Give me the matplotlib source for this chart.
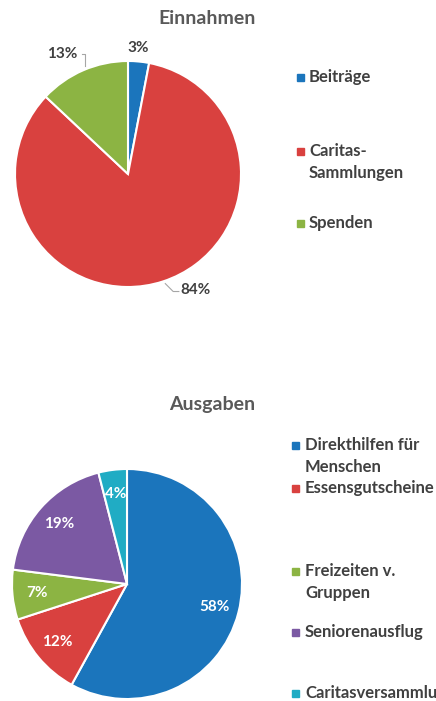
import matplotlib.pyplot as plt

# Einnahmen
in_labels = ["Beiträge", "Caritas-\nSammlungen", "Spenden"]
in_values = [3, 84, 13]
in_colors = ["#1B75BC", "#D9413F", "#8CB443"]

# Ausgaben
out_labels = ["Direkthilfen für\nMenschen", "Essensgutscheine", "Freizeiten v.\nGruppen",
              "Seniorenausflug", "Caritasversammlung"]
out_values = [58, 12, 7, 19, 4]
out_colors = ["#1B75BC", "#D9413F", "#8CB443", "#7B59A3", "#20ACC4"]

W, H = 436, 701
TXT = "#404040"
FONT = "Lato"

fig = plt.figure(figsize=(W / 100, H / 100), dpi=100)
fig.set_facecolor("white")


def pie_axes(cx, cy, r):
    ax = fig.add_axes([(cx - r) / W, (H - cy - r) / H, 2 * r / W, 2 * r / H])
    ax.axis("off")
    return ax


def fix_limits(ax):
    ax.set_xlim(-1, 1)
    ax.set_ylim(-1, 1)


def px(x, y):
    return x / W, 1 - y / H


def legend(items, colors, xm, xt, ys, step=22):
    for lab, c, y in zip(items, colors, ys):
        fig.patches.append(plt.Rectangle((xm / W - 3.5 / W, 1 - (y + 3.5) / H), 7 / W, 7 / H,
                                         transform=fig.transFigure, color=c))
        for i, line in enumerate(lab.split("\n")):
            fig.text(*px(xt, y + i * step), line, ha="left", va="center",
                     fontsize=12, fontweight="bold", color=TXT, family=FONT)


# ---- top chart
fig.text(*px(207, 18), "Einnahmen", ha="center", va="center", fontsize=14,
         fontweight="bold", color="#595959", family=FONT)
ax1 = pie_axes(128, 174, 113)
ax1.pie(in_values, colors=in_colors, startangle=90, counterclock=False, radius=1,
        wedgeprops=dict(edgecolor="white", linewidth=1.5))
fix_limits(ax1)
# labels outside, with leader lines
lab_pos = [(0.09, 1.115), (0.60, -1.03), (-0.58, 1.06)]
for v, (x, y) in zip(in_values, lab_pos):
    ax1.text(x, y, f"{v}%", ha="center", va="center", fontsize=11, fontweight="bold",
             color=TXT, family=FONT, clip_on=False)
ax1.plot([-0.41, -0.38, -0.38], [1.06, 1.06, 0.96], color="#A6A6A6", lw=0.8, clip_on=False)
ax1.plot([0.33, 0.40, 0.45], [-0.97, -1.04, -1.04], color="#A6A6A6", lw=0.8, clip_on=False)
legend(in_labels, in_colors, 300, 309, [77, 151, 223])

# ---- bottom chart
fig.text(*px(212, 405), "Ausgaben", ha="center", va="center", fontsize=14,
         fontweight="bold", color="#595959", family=FONT)
ax2 = pie_axes(127, 584, 115)
wedges, texts, autotexts = ax2.pie(out_values, colors=out_colors, startangle=90,
                                   counterclock=False, radius=1,
                                   autopct=lambda p: f"{p:.0f}%", pctdistance=0.79,
                                   wedgeprops=dict(edgecolor="white", linewidth=1.5))
fix_limits(ax2)
for t in autotexts:
    t.set_color("white")
    t.set_fontsize(11)
    t.set_fontweight("bold")
    t.set_family(FONT)
legend(out_labels, out_colors, 295, 305, [445, 488, 571, 632, 693])

fig.savefig("out.png", dpi=100, facecolor="white")
